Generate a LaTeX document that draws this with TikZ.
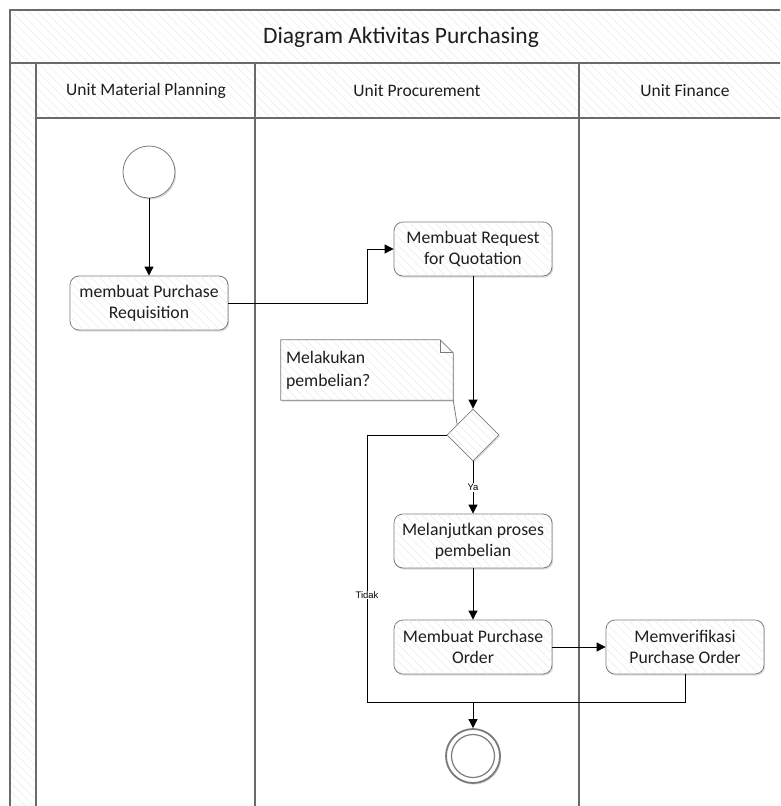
\documentclass[tikz,border=0pt]{standalone}
\usepackage{fontspec}
\setmainfont{Carlito}
\newfontfamily\smallsans{Liberation Sans}
\usetikzlibrary{arrows.meta,shadows,patterns.meta,calc,shapes.geometric}
\definecolor{frameclr}{HTML}{6A6A6A}
\definecolor{boxclr}{HTML}{7A7A7A}
\definecolor{txt}{HTML}{1E1E1E}
\tikzset{
  hatchbg/.style={fill=white,postaction={pattern={Lines[angle=-45,distance=6pt,line width=0.5pt]},pattern color=gray!16}},
  frame/.style={draw=frameclr,line width=1.4pt},
  softshadow/.style={drop shadow={shadow xshift=1.2pt,shadow yshift=-1.6pt,opacity=0.28,fill=gray}},
  act/.style={draw=boxclr,line width=0.8pt,rounded corners=9pt,hatchbg,softshadow,
    minimum width=158pt,minimum height=54pt,align=center,inner sep=2pt,
    font=\fontsize{17.7}{21}\selectfont,text=txt},
  lanehead/.style={font=\fontsize{17.5}{20}\selectfont,text=txt},
  titletext/.style={font=\fontsize{23.5}{26}\selectfont,text=txt},
  flow/.style={draw=black,line width=0.8pt},
  arr/.style={flow,-{Triangle[length=9pt,width=9pt]}},
  guard/.style={font=\smallsans\fontsize{9.5}{11}\selectfont,fill=white,inner sep=1pt,text=black},
  decision/.style={diamond,draw=boxclr,line width=0.8pt,hatchbg,softshadow,minimum width=52pt,minimum height=52pt,inner sep=0pt},
  startnode/.style={circle,draw=boxclr,line width=0.8pt,fill=white,softshadow,minimum size=52pt,inner sep=0pt},
  notebox/.style={minimum width=172pt,minimum height=60pt,text width=162pt,align=left,inner sep=0pt,
    font=\fontsize{17.7}{23}\selectfont,text=txt},
  endnode/.style={circle,draw=boxclr,line width=1.8pt,fill=white,softshadow,minimum size=54pt,inner sep=0pt},
  endinner/.style={circle,draw=boxclr,line width=1.2pt,minimum size=43pt,inner sep=0pt},
  noteline/.style={draw=boxclr,line width=0.8pt},
}
\begin{document}
\begin{tikzpicture}[x=1pt,y=-1pt]
\useasboundingbox (0,0) rectangle (780,806);
\begin{scope}
\clip (0,0) rectangle (780,806);
% hatched header areas
\path[hatchbg] (10,10) rectangle (800,63);
\path[hatchbg] (36,63) rectangle (800,118);
\path[hatchbg] (10,63) rectangle (36,820);
% frame lines
\draw[frame] (800,10) -- (10,10) -- (10,820);
\draw[frame] (10,63) -- (800,63);
\draw[frame] (36,118) -- (800,118);
\draw[frame] (36,63) -- (36,820);
\draw[frame] (255,63) -- (255,820);
\draw[frame] (579,63) -- (579,820);
\end{scope}
% titles
\node[titletext] (title) at (401,37) {Diagram Aktivitas Purchasing};
\node[lanehead] (lane1) at (146,91) {Unit Material Planning};
\node[lanehead] (lane2) at (417,91) {Unit Procurement};
\node[lanehead] (lane3) at (685,91) {Unit Finance};
% nodes
\node[startnode] (start) at (149,172) {};
\node[act] (req) at (149,303) {membuat Purchase\\Requisition};
\node[act] (rfq) at (473,249) {Membuat Request\\for Quotation};
\node[decision] (dec) at (473,435) {};
\node[act] (cont) at (473,541) {Melanjutkan proses\\pembelian};
\node[act] (po) at (473,647) {Membuat Purchase\\Order};
\node[act] (ver) at (685,647) {Memverifikasi\\Purchase Order};
\node[endnode] (end) at (473,756) {};
\node[endinner] (endin) at (end.center) {};
% note
\coordinate (notec) at (367,370);
\path[hatchbg,softshadow] (281,340) -- (440,340) -- (453,353) -- (453,400) -- (281,400) -- cycle;
\node[notebox] (note) at (notec) {Melakukan\\pembelian?};
\draw[noteline] (note.north west) -- ($(note.north east)+(-13,0)$) -- ($(note.north east)+(0,13)$) -- (note.south east) -- (note.south west) -- cycle;
\draw[noteline] ($(note.north east)+(-13,0)$) -- ($(note.north east)+(-13,13)$) -- ($(note.north east)+(0,13)$);
\draw[noteline] (note.south east) -- ($(dec.west)!0.4!(dec.north)$);
% coordinates
\coordinate (bend) at (367,303);
\coordinate (tidakc) at (367,702);
\coordinate (join) at (473,702);
% connectors
\draw[arr] (start) -- (req);
\draw[arr] (req.east) -- (bend) |- (rfq.west);
\draw[arr] (rfq) -- (dec);
\draw[arr] (dec) -- node[guard] {Ya} (cont);
\draw[arr] (cont) -- (po);
\draw[arr] (po) -- (ver);
\draw[flow] (dec.west) -| (tidakc) -- (join);
\draw[flow] (ver.south) |- (join);
\draw[arr] (join) -- (end);
\node[guard] (tidak) at (367,595) {Tidak};
\end{tikzpicture}
\end{document}
